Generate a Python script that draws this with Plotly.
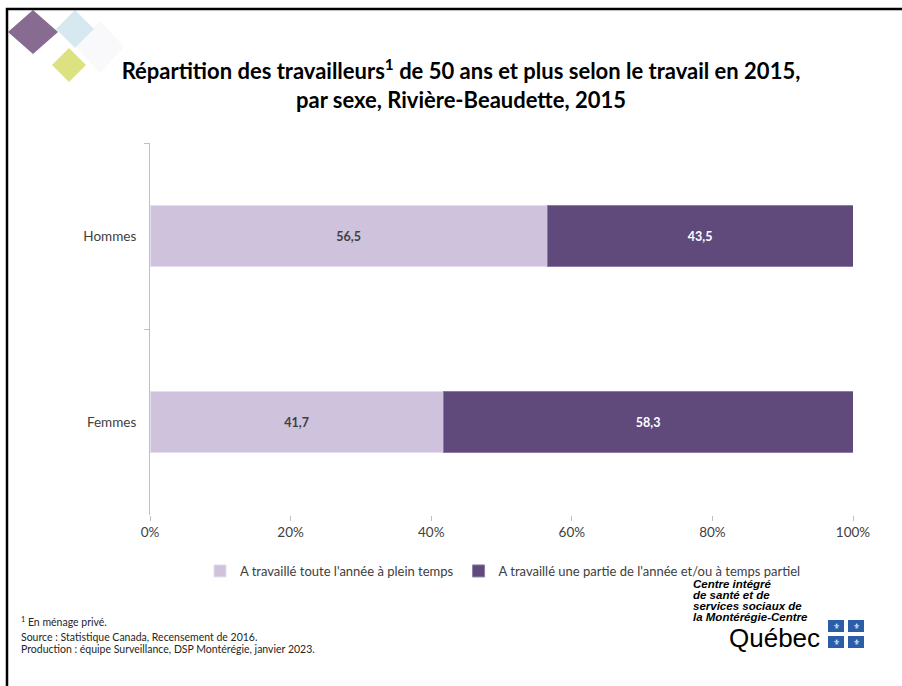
import plotly.graph_objects as go

categories = ["Hommes", "Femmes"]
series_names = ["A travaillé toute l'année à plein temps",
                "A travaillé une partie de l'année et/ou à temps partiel"]
full_year = [56.5, 41.7]
part_year = [43.5, 58.3]
x_ticks = [0, 20, 40, 60, 80, 100]
x_tick_text = [f"{v}%" for v in x_ticks]

W, H = 902, 686
L, R, T, B = 150, 853, 143, 515
PW, PH = R - L, B - T


def px(x):
    return (x - L) / PW


def py(y):
    return (B - y) / PH


LIGHT = "#CEC2DC"
DARK = "#604A7B"
TXT = "#404040"

fig = go.Figure()
fig.add_trace(go.Bar(
    y=categories, x=full_year, name=series_names[0], orientation="h",
    marker=dict(color=LIGHT, line=dict(color="#E6DEEE", width=1)),
    width=0.33, texttemplate="<b>%{x:.1f}</b>", textposition="inside",
    insidetextanchor="middle",
    textfont=dict(family="Lato", size=12.5, color=TXT),
))
fig.add_trace(go.Bar(
    y=categories, x=part_year, name=series_names[1], orientation="h",
    marker=dict(color=DARK, line=dict(color="#8E7CA6", width=1)),
    width=0.33, texttemplate="<b>%{x:.1f}</b>", textposition="inside",
    insidetextanchor="middle",
    textfont=dict(family="Lato", size=12.5, color="white"),
))

shapes = []


def diamond(cx, cy, rx, ry, color):
    pts = [(cx - rx, cy), (cx, cy - ry), (cx + rx, cy), (cx, cy + ry)]
    path = "M " + " L ".join(f"{px(a):.5f},{py(b):.5f}" for a, b in pts) + " Z"
    return dict(type="path", xref="paper", yref="paper", path=path,
                fillcolor=color, line=dict(width=0), layer="above")


shapes.append(diamond(100, 47, 24, 26, "#F9F9FB"))
shapes.append(diamond(75, 29, 19, 19, "#D7E9F0"))
shapes.append(diamond(69, 65, 17, 17, "#DCE27F"))
shapes.append(diamond(33, 32, 25, 22, "#876B91"))

# page frame
shapes.append(dict(type="rect", xref="paper", yref="paper",
                   x0=px(7), x1=px(920), y0=py(9), y1=py(700),
                   line=dict(color="black", width=2.5), fillcolor="rgba(0,0,0,0)"))

# Quebec flag squares
flag_cells = [(828, 620), (848, 620), (828, 636), (848, 636)]
for (x0, y0) in flag_cells:
    shapes.append(dict(type="rect", xref="paper", yref="paper",
                       x0=px(x0), x1=px(x0 + 16), y0=py(y0), y1=py(y0 + 12),
                       fillcolor="#2B5DA8", line=dict(width=0)))

annotations = []
for (x0, y0) in flag_cells:
    annotations.append(dict(text="⚜", xref="paper", yref="paper",
                            x=px(x0 + 8), y=py(y0 + 6), showarrow=False,
                            font=dict(family="DejaVu Sans", size=8, color="white"),
                            xanchor="center", yanchor="middle"))

logo_lines = [("Centre intégré", 584), ("de santé et de", 595),
              ("services sociaux de", 606), ("la Montérégie-Centre", 617)]
for t, y in logo_lines:
    annotations.append(dict(
        text=f"<b><i>{t}</i></b>", xref="paper", yref="paper", x=px(691), y=py(y),
        showarrow=False, xanchor="left", yanchor="middle", align="left",
        font=dict(family="Liberation Sans", size=11.5, color="black")))
annotations.append(dict(
    text="Québec", xref="paper", yref="paper", x=px(727), y=py(638),
    showarrow=False, xanchor="left", yanchor="middle",
    font=dict(family="Liberation Sans", size=26, color="black")))

foot = [("<sup>1</sup> En ménage privé.", 621),
        ("Source : Statistique Canada, Recensement de 2016.", 637),
        ("Production : équipe Surveillance, DSP Montérégie, janvier 2023.", 649)]
for t, y in foot:
    annotations.append(dict(text=t, xref="paper", yref="paper", x=px(19), y=py(y),
                            showarrow=False, xanchor="left", yanchor="middle",
                            font=dict(family="Lato", size=10.5, color="#262626")))

fig.update_layout(
    width=W, height=H,
    margin=dict(l=L, r=W - R, t=T, b=H - B, pad=0),
    paper_bgcolor="white", plot_bgcolor="white",
    barmode="stack", separators=", ",
    title=dict(
        text="<b>Répartition des travailleurs<sup>1</sup> de 50 ans et plus selon le travail en 2015,<br>par sexe, Rivière-Beaudette, 2015</b>",
        x=461 / W, xanchor="center", y=1 - 79 / H, yanchor="middle",
        font=dict(family="Lato", size=22, color="black")),
    xaxis=dict(range=[0, 100], tickvals=x_ticks, ticktext=x_tick_text,
               showgrid=False, zeroline=False, showline=False,
               ticks="outside", ticklen=5, tickcolor="#BFBFBF",
               tickfont=dict(family="Lato", size=13.5, color=TXT)),
    yaxis=dict(range=[1.5, -0.5], categoryorder="array", categoryarray=categories,
               showgrid=False, zeroline=False, showline=True, linecolor="#BFBFBF",
               linewidth=1, ticks="outside", tickson="boundaries", ticklen=5,
               tickcolor="#BFBFBF", ticklabelstandoff=10,
               tickfont=dict(family="Lato", size=13.5, color=TXT)),
    legend=dict(orientation="h", x=px(503), xanchor="center", y=py(571),
                yanchor="middle", font=dict(family="Lato", size=13, color=TXT),
                itemwidth=30, traceorder="normal", bgcolor="rgba(0,0,0,0)"),
    shapes=shapes, annotations=annotations,
)

fig.write_html("out.html", config={"displayModeBar": False},
               post_script="document.body.style.margin='0';")
